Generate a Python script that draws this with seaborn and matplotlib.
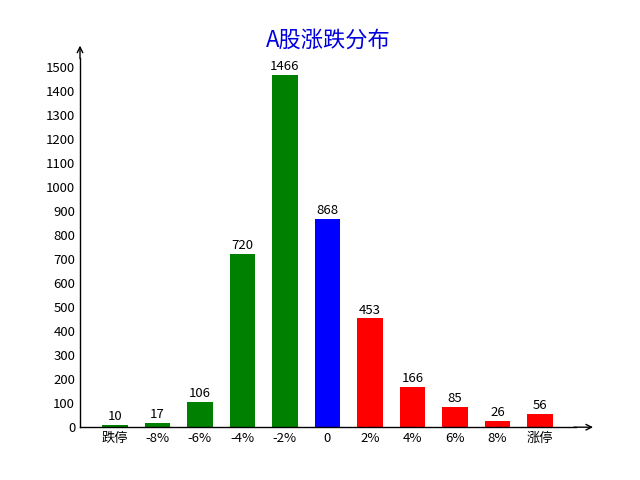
import matplotlib
matplotlib.use('Agg')
import matplotlib.pyplot as plt
import seaborn as sns
import pandas as pd

# A-share up/down distribution
labels = ['跌停', '-8%', '-6%', '-4%', '-2%', '0', '2%', '4%', '6%', '8%', '涨停']
counts = [10, 17, 106, 720, 1466, 868, 453, 166, 85, 26, 56]
colors = ['green'] * 5 + ['blue'] + ['red'] * 5

sns.set_style('white')
plt.rcParams['font.family'] = ['Noto Sans CJK SC', 'DejaVu Sans']
plt.rcParams['axes.unicode_minus'] = False
plt.rcParams['text.color'] = 'black'
plt.rcParams['xtick.color'] = 'black'
plt.rcParams['ytick.color'] = 'black'

df = pd.DataFrame({'label': labels, 'count': counts})

fig, ax = plt.subplots(figsize=(6.4, 4.8), dpi=100)
sns.barplot(data=df, x='label', y='count', hue='label', palette=colors,
            width=0.6, saturation=1, legend=False, linewidth=0, ax=ax)

for i, v in enumerate(counts):
    ax.text(i, v + 8, str(v), ha='center', va='bottom', fontsize=9.5)

ax.set_xlim(-0.82, 10.85)
ax.set_ylim(0, 1540)
ax.set_yticks(range(0, 1501, 100))
ax.set_xlabel('')
ax.set_ylabel('')
ax.tick_params(direction='in', labelsize=9.5, length=4, width=0.8)
for s in ['top', 'right']:
    ax.spines[s].set_visible(False)
for s in ['left', 'bottom']:
    ax.spines[s].set_color('black')
    ax.spines[s].set_linewidth(1)

# arrow heads on axes
ax.annotate('', xy=(1.04, 0), xytext=(0.99, 0), xycoords='axes fraction',
            arrowprops=dict(arrowstyle='->', color='black', lw=1), annotation_clip=False)
ax.annotate('', xy=(0, 1.04), xytext=(0, 0.99), xycoords='axes fraction',
            arrowprops=dict(arrowstyle='->', color='black', lw=1), annotation_clip=False)

ax.set_title('A股涨跌分布', color='#0000dd', fontsize=16, pad=8)

plt.savefig('out.png', dpi=100)
